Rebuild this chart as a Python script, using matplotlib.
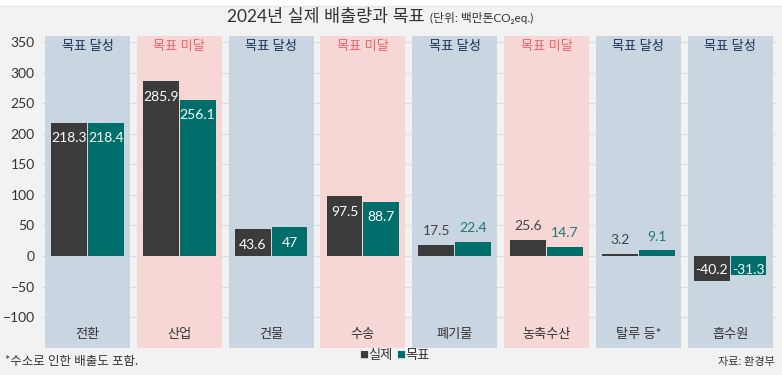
import matplotlib.pyplot as plt
import numpy as np

plt.rcParams['font.family'] = ['Lato', 'Noto Sans CJK KR', 'DejaVu Sans']

categories = ['전환', '산업', '건물', '수송', '폐기물', '농축수산', '탈루 등*', '흡수원']
actual = [218.3, 285.9, 43.6, 97.5, 17.5, 25.6, 3.2, -40.2]
target = [218.4, 256.1, 47, 88.7, 22.4, 14.7, 9.1, -31.3]
status = ['목표 달성', '목표 미달', '목표 달성', '목표 미달', '목표 달성', '목표 미달', '목표 달성', '목표 달성']
actual_labels = ['218.3', '285.9', '43.6', '97.5', '17.5', '25.6', '3.2', '-40.2']
target_labels = ['218.4', '256.1', '47', '88.7', '22.4', '14.7', '9.1', '-31.3']

bg = '#f2f2f2'
dark = '#3b3b3b'
teal = '#006f6b'
ok_panel = '#c9d5e1'
miss_panel = '#f7d6d6'

fig = plt.figure(figsize=(7.82, 3.75), dpi=100, facecolor=bg)

# white strip on top with a thin line
fig.patches.append(plt.Rectangle((0, 1 - 5.5 / 375), 1, 5.5 / 375, transform=fig.transFigure,
                                 facecolor='white', edgecolor='none'))
fig.lines.append(plt.Line2D([0, 1], [1 - 6 / 375, 1 - 6 / 375], transform=fig.transFigure,
                            color='#e4e4e4', lw=1))

ax = fig.add_axes([41.6 / 782, 1 - 347.7 / 375, (776 - 41.6) / 782, (347.7 - 36) / 375])
ax.set_facecolor(bg)

ymin, ymax = -150, 360
x = np.arange(len(categories))

for y in range(-100, 351, 50):
    ax.axhline(y, color='#dcdcdc', lw=0.8, zorder=0)

for i, s in enumerate(status):
    col = ok_panel if s == '목표 달성' else miss_panel
    ax.bar(x[i], ymax - ymin, bottom=ymin, width=0.925, color=col, zorder=1)
    tcol = '#1d3557' if s == '목표 달성' else '#e8636b'
    ax.text(x[i], 343, s, ha='center', va='center', fontsize=9.5, color=tcol, zorder=3)
    ax.text(x[i], -127, categories[i], ha='center', va='center', fontsize=9.5, color='#333333', zorder=3)

w = 0.39
off = 0.2
ax.bar(x - off, actual, width=w, color=dark, zorder=2)
ax.bar(x + off, target, width=w, color=teal, zorder=2)

def label(xp, v, txt, col):
    if v >= 40:
        ax.annotate(txt, (xp, v), xytext=(0, -11), textcoords='offset points',
                    ha='center', va='center', color='white', fontsize=10, zorder=4)
    elif v < 0:
        ax.annotate(txt, (xp, 0), xytext=(0, -10), textcoords='offset points',
                    ha='center', va='center', color='white', fontsize=10, zorder=4)
    else:
        ax.annotate(txt, (xp, v), xytext=(0, 10), textcoords='offset points',
                    ha='center', va='center', color=col, fontsize=10, zorder=4)

for i in range(len(categories)):
    label(x[i] - off, actual[i], actual_labels[i], '#444444')
    label(x[i] + off, target[i], target_labels[i], '#1a7a78')

ax.set_xlim(-0.5, 7.5)
ax.set_ylim(ymin, ymax)
ax.set_yticks(range(-100, 351, 50))
ax.set_xticks([])
ax.tick_params(axis='y', length=0, labelsize=10, labelcolor='#333333', pad=5)
for sp in ax.spines.values():
    sp.set_visible(False)

fig.text(425 / 782, 1 - 17 / 375, '2024년 실제 배출량과 목표', ha='right', va='center',
         fontsize=12.5, color='#333333')
fig.text(430 / 782, 1 - 18 / 375, '(단위: 백만톤CO₂eq.)', ha='left', va='center',
         fontsize=8.5, color='#333333')

fig.text(5 / 782, 1 - 361 / 375, '*수소로 인한 배출도 포함.', ha='left', va='center',
         fontsize=9, color='#333333')
fig.text(775 / 782, 1 - 362 / 375, '자료: 환경부', ha='right', va='center',
         fontsize=8, color='#333333')

fig.text(359 / 782, 1 - 355 / 375, '■', ha='left', va='center', fontsize=6.5, color=dark)
fig.text(368 / 782, 1 - 355 / 375, '실제', ha='left', va='center', fontsize=9.5, color='#333333')
fig.text(396 / 782, 1 - 355 / 375, '■', ha='left', va='center', fontsize=6.5, color=teal)
fig.text(405 / 782, 1 - 355 / 375, '목표', ha='left', va='center', fontsize=9.5, color='#333333')

fig.savefig('out.png', dpi=100, facecolor=bg)
